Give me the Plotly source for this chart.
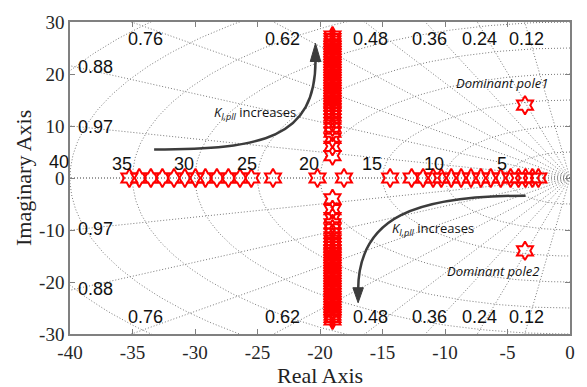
import numpy as np
import plotly.graph_objects as go

# ---------------- data ----------------
real_axis_poles = [-35.25, -34.46, -33.53, -32.61, -31.68, -30.81, -29.96, -29.17, -28.25,
                   -27.33, -26.40, -25.50, -23.76, -20.20, -18.08, -14.39, -12.67, -11.75,
                   -10.95, -10.30, -9.50, -8.71, -7.92, -7.13, -6.34, -5.54, -4.75, -4.12,
                   -3.56, -3.01, -2.53]
column_real = -19.0
column_imag_upper = [4.3, 6.1, 7.6, 8.8, 9.8, 10.6, 11.3, 12.0, 12.6, 13.2, 13.8, 14.3, 14.8,
                     15.3, 15.8, 16.3, 16.8, 17.3, 17.8, 18.3, 18.8, 19.3, 19.8, 20.3, 20.8,
                     21.3, 21.8, 22.3, 22.8, 23.3, 23.8, 24.3, 24.8, 25.3, 25.8, 26.3, 26.8, 27.3]
column_imag_lower = [-4.0, -6.1, -7.6, -8.8, -9.8, -10.6, -11.3, -12.0, -12.6, -13.2, -13.8,
                     -14.3, -14.8, -15.3, -15.8, -16.3, -16.8, -17.3, -17.8, -18.3, -18.8,
                     -19.3, -19.8, -20.3, -20.8, -21.3, -21.8, -22.3, -22.8, -23.3, -23.8,
                     -24.3, -24.8, -25.3, -25.8, -26.3, -26.8, -27.3]
dominant_real = [-3.6, -3.6]
dominant_imag = [14.0, -14.0]

zeta_values = [0.12, 0.24, 0.36, 0.48, 0.62, 0.76, 0.88, 0.97]
zeta_labels = ["0.12", "0.24", "0.36", "0.48", "0.62", "0.76", "0.88", "0.97"]
zeta_label_x = [-3.48, -7.27, -11.23, -15.97, -23.0, -33.99, -37.94, -37.94]
zeta_label_y = [26.7, 26.7, 26.7, 26.7, 26.7, 26.7, 21.4, 9.9]
wn_values = [5, 10, 15, 20, 25, 30, 35, 40, 45]
wn_labels = ["5", "10", "15", "20", "25", "30", "35", "40"]
x_ticks = [-40, -35, -30, -25, -20, -15, -10, -5, 0]
y_ticks = [-30, -20, -10, 0, 10, 20, 30]

# ---------------- figure ----------------
fig = go.Figure()

# s-plane grid (damping lines + natural frequency arcs)
gx, gy = [], []
R = 80.0
for z in zeta_values + [1.0]:
    s = np.sqrt(1 - z * z)
    gx += [0, -R * z, None, 0, -R * z, None]
    gy += [0, R * s, None, 0, -R * s, None]
th = np.linspace(np.pi / 2, 3 * np.pi / 2, 241)
for w in wn_values:
    gx += list(w * np.cos(th)) + [None]
    gy += list(w * np.sin(th)) + [None]
fig.add_trace(go.Scatter(x=gx, y=gy, mode="lines", hoverinfo="skip",
                         line=dict(color="#7a7a7a", width=1, dash="1px,2px"),
                         showlegend=False))

star = dict(symbol="hexagram-open", size=14, color="#ff0000",
            line=dict(color="#ff0000", width=2))
fig.add_trace(go.Scatter(x=real_axis_poles, y=[0] * len(real_axis_poles), mode="markers",
                         marker=star, showlegend=False))
fig.add_trace(go.Scatter(x=[column_real] * len(column_imag_upper), y=column_imag_upper,
                         mode="markers", marker=star, showlegend=False))
fig.add_trace(go.Scatter(x=[column_real] * len(column_imag_lower), y=column_imag_lower,
                         mode="markers", marker=star, showlegend=False))
fig.add_trace(go.Scatter(x=dominant_real, y=dominant_imag, mode="markers",
                         marker=star, showlegend=False))

ann = []
lab_font = dict(family="Liberation Sans, Arial", size=18, color="#111111")
for t, x, y in zip(zeta_labels, zeta_label_x, zeta_label_y):
    ann.append(dict(x=x, y=y, text=t, showarrow=False, font=lab_font,
                    xanchor="center", yanchor="middle"))
    ann.append(dict(x=x, y=-y, text=t, showarrow=False, font=lab_font,
                    xanchor="center", yanchor="middle"))
for t, w in zip(wn_labels, wn_values):
    ann.append(dict(x=-w, y=2.7, text=t, showarrow=False, font=lab_font,
                    xanchor="right", yanchor="middle", xshift=1,
                    yshift=2 if w == 40 else 0))

note_font = dict(family="Open Sans, Noto Sans", size=13, color="#111111")
ann.append(dict(x=-25.2, y=12.45, text="<i>K</i><sub><i>I,pll</i></sub> increases",
                showarrow=False, font=note_font, xanchor="center", yanchor="middle"))
ann.append(dict(x=-11.0, y=-9.8, text="<i>K</i><sub><i>I,pll</i></sub> increases",
                showarrow=False, font=note_font, xanchor="center", yanchor="middle"))
ann.append(dict(x=-5.47, y=18.3, text="<i>Dominant pole1</i>", showarrow=False,
                font=note_font, xanchor="center", yanchor="middle"))
ann.append(dict(x=-6.14, y=-17.9, text="<i>Dominant pole2</i>", showarrow=False,
                font=note_font, xanchor="center", yanchor="middle"))

title_font = dict(family="Liberation Serif, Times New Roman", size=22, color="#222222")
ann.append(dict(xref="paper", yref="paper", x=0.5, y=0, yshift=-41, text="Real Axis",
                showarrow=False, font=title_font, xanchor="center", yanchor="middle"))
ann.append(dict(xref="paper", yref="paper", x=0, y=0.5, xshift=-47, text="Imaginary Axis",
                textangle=-90, showarrow=False, font=title_font,
                xanchor="center", yanchor="middle"))

arrow_col = "#3c3c3c"
shapes = [
    dict(type="path", xref="x", yref="y",
         path="M -33.27,5.47 C -24.55,5.47 -20.36,7.7 -20.36,22.6",
         line=dict(color=arrow_col, width=2.5)),
    dict(type="path", xref="x", yref="y",
         path="M -20.36,25.9 L -20.78,22.4 L -19.94,22.4 Z",
         line=dict(color=arrow_col, width=1), fillcolor=arrow_col),
    dict(type="path", xref="x", yref="y",
         path="M -3.56,-3.40 C -12.28,-3.40 -16.95,-7.36 -16.95,-21.6",
         line=dict(color=arrow_col, width=2.5)),
    dict(type="path", xref="x", yref="y",
         path="M -16.95,-24.0 L -17.37,-21.1 L -16.53,-21.1 Z",
         line=dict(color=arrow_col, width=1), fillcolor=arrow_col),
]

axis_common = dict(showgrid=False, zeroline=False, showline=True, linecolor="#808080",
                   linewidth=1.5, mirror="ticks", ticks="inside", ticklen=5,
                   tickcolor="#808080", tickwidth=1,
                   tickfont=dict(family="Liberation Serif, Times New Roman", size=19,
                                 color="#262626"))
fig.update_layout(
    width=587, height=387,
    margin=dict(l=70, r=12, t=16, b=53),
    paper_bgcolor="white", plot_bgcolor="white",
    xaxis=dict(range=[-40, 0], tickvals=x_ticks, ticktext=[str(v) for v in x_ticks],
               **axis_common),
    yaxis=dict(range=[-30, 30], tickvals=y_ticks, ticktext=[str(v) for v in y_ticks],
               **axis_common),
    annotations=ann, shapes=shapes,
)
fig.write_html("out.html")
